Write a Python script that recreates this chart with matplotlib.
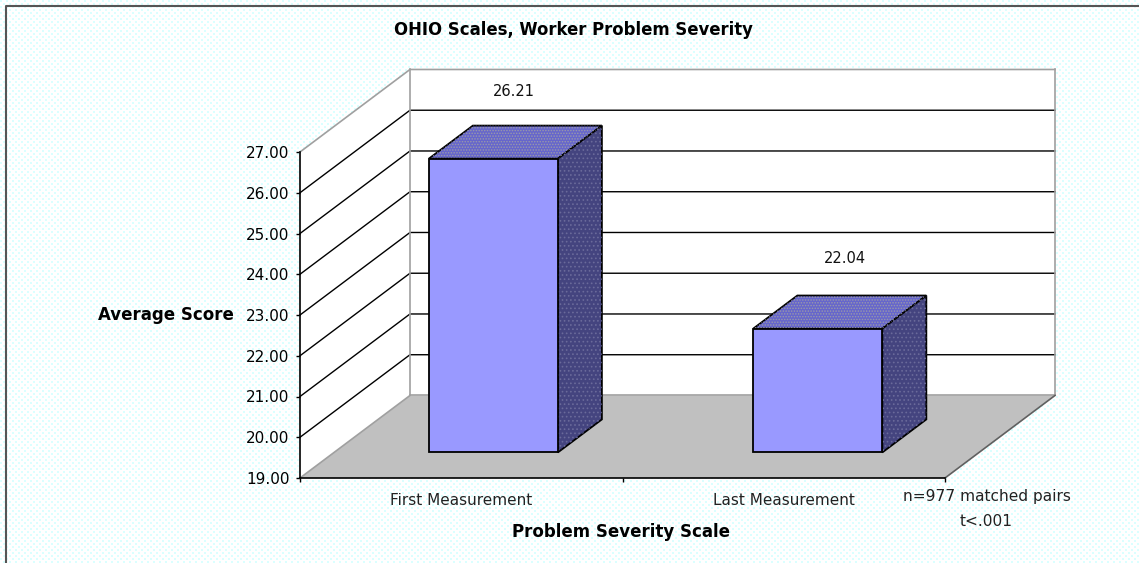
import numpy as np
import matplotlib
matplotlib.use("Agg")
import matplotlib.pyplot as plt
from matplotlib.patches import Polygon
from matplotlib.lines import Line2D

categories = ["First Measurement", "Last Measurement"]
scores = [26.21, 22.04]
y_ticks = [19, 20, 21, 22, 23, 24, 25, 26, 27]
label_depth = [0.48, 0.56]
label_rise = [1.65, 1.72]

W, H = 1139, 563
# fake 3d: how far the back wall is shifted from the front plane (data units)
DX = 0.341
DY = 2.025
bar_w = 0.4
bar_centers = [0.494, 1.5]
d0, d1 = 0.31, 0.71


def px(x, y, d=0):
    return (x + d * DX, y + d * DY)


plt.rcParams["hatch.linewidth"] = 0.7
fig = plt.figure(figsize=(W / 100, H / 100), dpi=100)

# dotted paper background
yy, xx = np.mgrid[0:H, 0:W]
dots = ((xx % 6 < 2) & (yy % 6 < 2)) | (((xx + 3) % 6 < 2) & ((yy + 3) % 6 < 2))
bg = np.ones((H, W, 3))
bg[dots] = [0.86, 1.0, 1.0]
ax_bg = fig.add_axes([0, 0, 1, 1], zorder=-1)
ax_bg.imshow(bg, interpolation="nearest", aspect="auto")
ax_bg.axis("off")
fig.add_artist(Line2D([5.5 / W, 5.5 / W, 1], [0, 1 - 5.5 / H, 1 - 5.5 / H], color="#555555", lw=1.5))

ax = fig.add_axes([300 / W, 1 - 478 / H, 645 / W, 326 / H])
ax.patch.set_alpha(0)
ax.set_xlim(0, 2)
ax.set_ylim(19, 27)
for s in ["top", "right"]:
    ax.spines[s].set_visible(False)
for s in ["left", "bottom"]:
    ax.spines[s].set_color("black")
    ax.spines[s].set_linewidth(1.2)
    ax.spines[s].set_zorder(6)

top = y_ticks[-1]
low = y_ticks[0]
# walls and floor
ax.add_patch(Polygon([px(0, low), px(0, low, 1), px(0, top, 1), px(0, top)], fc="white", ec="none", clip_on=False, zorder=1))
ax.add_patch(Polygon([px(0, low, 1), px(2, low, 1), px(2, top, 1), px(0, top, 1)], fc="white", ec="none", clip_on=False, zorder=1))
ax.add_patch(Polygon([px(0, low), px(2, low), px(2, low, 1), px(0, low, 1)], fc="#c0c0c0", ec="none", clip_on=False, zorder=1.5))

# gridlines
for t in y_ticks[1:-1]:
    a, b, c = px(0, t), px(0, t, 1), px(2, t, 1)
    ax.plot([a[0], b[0], c[0]], [a[1], b[1], c[1]], color="black", lw=1, clip_on=False, zorder=2)
a, b, c = px(0, top), px(0, top, 1), px(2, top, 1)
ax.plot([a[0], b[0], c[0]], [a[1], b[1], c[1]], color="#a0a0a0", lw=1.2, clip_on=False, zorder=2)
for p, q in [(px(0, low), px(0, low, 1)), (px(0, low, 1), px(0, top, 1)), (px(2, low, 1), px(2, top, 1)),
             (px(0, low, 1), px(2, low, 1))]:
    ax.plot([p[0], q[0]], [p[1], q[1]], color="#a0a0a0", lw=1.2, clip_on=False, zorder=2)
p, q = px(2, low), px(2, low, 1)
ax.plot([p[0], q[0]], [p[1], q[1]], color="#606060", lw=1.2, clip_on=False, zorder=2)

# bars
for i, v in enumerate(scores):
    l = bar_centers[i] - bar_w / 2
    r = bar_centers[i] + bar_w / 2
    ax.add_patch(Polygon([px(l, low, d0), px(r, low, d0), px(r, v, d0), px(l, v, d0)], fc="#9999ff", ec="black", lw=1.3, clip_on=False, zorder=5))
    ax.add_patch(Polygon([px(l, v, d0), px(r, v, d0), px(r, v, d1), px(l, v, d1)], fc="#6666cc", ec="black", lw=1.3, clip_on=False, zorder=4))
    ax.add_patch(Polygon([px(l, v, d0), px(r, v, d0), px(r, v, d1), px(l, v, d1)], fc="none", ec="#9a9aa8", lw=0, hatch="......", clip_on=False, zorder=4.1))
    ax.add_patch(Polygon([px(r, low, d0), px(r, low, d1), px(r, v, d1), px(r, v, d0)], fc="#44447f", ec="black", lw=1.3, clip_on=False, zorder=4))
    ax.add_patch(Polygon([px(r, low, d0), px(r, low, d1), px(r, v, d1), px(r, v, d0)], fc="none", ec="#6a6a9a", lw=0, hatch="....", clip_on=False, zorder=4.1))
    tx = px(i + 0.5, v, label_depth[i])[0]
    ty = px(i + 0.5, v, d0)[1] + label_rise[i]
    ax.text(tx, ty, f"{v:.2f}", ha="center", va="center", fontsize=10.5, color="#111111", zorder=7)

ax.set_xticks([0, 1, 2])
ax.set_xticklabels([])
ax.set_yticks(y_ticks)
ax.set_yticklabels([f"{t:.2f}" for t in y_ticks], fontsize=11)
ax.tick_params(length=3, width=1, pad=4.5)
for i, c in enumerate(categories):
    ax.text(i + 0.5, 18.45, c, ha="center", va="center", fontsize=11, color="#222222")

fig.text(573 / W, 1 - 30 / H, "OHIO Scales, Worker Problem Severity", ha="center", va="center", fontsize=11.9, fontweight="bold")
fig.text(166 / W, 1 - 315 / H, "Average Score", ha="center", va="center", fontsize=12, fontweight="bold")
fig.text(621 / W, 1 - 532 / H, "Problem Severity Scale", ha="center", va="center", fontsize=12, fontweight="bold")
fig.text(987 / W, 1 - 497 / H, "n=977 matched pairs", ha="center", va="center", fontsize=11.1, color="#222222")
fig.text(986 / W, 1 - 522 / H, "t<.001", ha="center", va="center", fontsize=11.1, color="#222222")

fig.savefig("out.png", dpi=100)
